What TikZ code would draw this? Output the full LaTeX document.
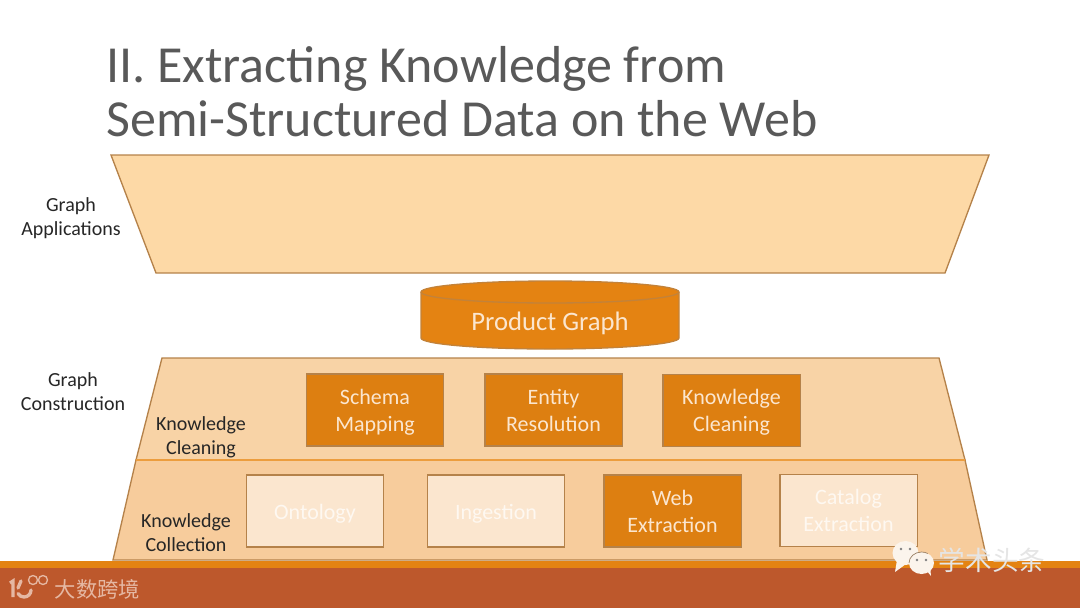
\documentclass[tikz,border=0pt]{standalone}
\usepackage{fontspec}
\setmainfont{Carlito}
\newfontfamily\cjkfont{Noto Sans CJK SC}
\definecolor{orangedark}{HTML}{E48312}
\definecolor{rustbar}{HTML}{BD582C}
\definecolor{edgeline}{HTML}{B5824A}
\definecolor{topfill}{HTML}{FDD9A6}
\definecolor{midfill}{HTML}{F8D3A6}
\definecolor{lowfill}{HTML}{F7CC9C}
\definecolor{paleorange}{HTML}{FBE6CF}
\definecolor{logotint}{HTML}{E5B8A3}
\definecolor{bubble}{HTML}{FBF4EC}
\tikzset{
    sidelabel/.style={align=center, font=\fontsize{15}{18}\selectfont, text=black!85},
    activebox/.style={draw=edgeline, line width=1pt, fill=orangedark!97!black, text=paleorange, align=center,
        minimum width=103pt, minimum height=54pt, inner sep=0pt, font=\fontsize{16.5}{20.3}\selectfont,
        text height=35.6pt, text depth=4pt},
    fadedbox/.style={activebox, fill=paleorange, text=white!70!paleorange},
    oneline/.style={text height=16.5pt, text depth=4pt}
}
\begin{document}
\begin{tikzpicture}[x=0.75pt, y=-0.75pt]
    \useasboundingbox (0,0) rectangle (1080,608);

    % Title
    \node[anchor=west, inner sep=0pt, text=black!65, align=left, font=\fontsize{39}{40.5}\selectfont] (title) at (106,92)
        {II. Extracting Knowledge from\\Semi-Structured Data on the Web};

    % Footer bar
    \fill[orangedark] (0,561) rectangle (1080,570);
    \fill[rustbar] (0,568) rectangle (1080,608);

    % Trapezoids
    \draw[draw=edgeline, fill=topfill, line width=1pt] (111,155) -- (989,155) -- (945,273) -- (156,273) -- cycle;
    \draw[draw=edgeline, fill=midfill, line width=1pt] (162,358) -- (939,358) -- (965,460) -- (136,460) -- cycle;
    \draw[draw=edgeline, fill=lowfill, line width=1pt] (136,460) -- (965,460) -- (987,560) -- (113,560) -- cycle;
    \draw[orangedark!70!topfill, line width=1pt] (136,460) -- (965,460);

    % Product graph cylinder
    \draw[draw=edgeline!70!orangedark, fill=orangedark, line width=1pt]
        (421,292) arc[start angle=180, end angle=360, x radius=129, y radius=11]
        -- (679,338) arc[start angle=0, end angle=180, x radius=129, y radius=11] -- cycle;
    \draw[draw=edgeline!70!orangedark, line width=1pt]
        (421,292) arc[start angle=180, end angle=0, x radius=129, y radius=11];
    \node[text=paleorange, font=\fontsize{20}{24}\selectfont] (product) at (550,323.5) {Product Graph};

    % Side labels
    \node[sidelabel] (applications) at (71,218.5) {Graph\\Applications};
    \node[sidelabel] (construction) at (73,391.5) {Graph\\Construction};
    \node[sidelabel] (cleaning) at (201,437.5) {Knowledge\\Cleaning};
    \node[sidelabel] (collection) at (186,533) {Knowledge\\Collection};

    % Knowledge cleaning boxes
    \node[activebox] (schema) at (375,410) {Schema\\Mapping};
    \node[activebox] (entity) at (553.5,410) {Entity\\Resolution};
    \node[activebox] (cleanbox) at (731.5,410.5) {Knowledge\\Cleaning};

    % Knowledge collection boxes
    \node[fadedbox, oneline] (ontology) at (315,511) {Ontology};
    \node[fadedbox, oneline] (ingestion) at (496,511) {Ingestion};
    \node[activebox] (webextract) at (672.5,511) {Web\\Extraction};
    \node[fadedbox] (catalog) at (848.5,510.5) {Catalog\\Extraction};

    % Footer logo
    \node[anchor=west, text=logotint, font=\cjkfont\fontsize{16}{18}\selectfont] (brand) at (50,589) {大数跨境};
    \draw[logotint, line width=2.5pt] (13,597) -- (13,581) -- (10,583);
    \draw[logotint, line width=2.5pt, line cap=round] (21,581) -- (18,588);
    \draw[logotint, line width=2.5pt, line cap=round] (31,590) arc[start angle=0, end angle=150, x radius=7, y radius=7];
    \draw[logotint, line width=1pt] (33,580) circle[radius=4.5] (43,580) circle[radius=4.5];

    % Watermark
    \fill[bubble] (905.5,553) ellipse[x radius=13, y radius=12];
    \fill[bubble] (897,560) -- (895,572) -- (906,564) -- cycle;
    \fill[bubble] (921.5,563) ellipse[x radius=12.5, y radius=11];
    \fill[bubble] (926,570) -- (931,576) -- (930,566) -- cycle;
    \draw[lowfill!60!black, line width=0.5pt] (909,563) arc[start angle=180, end angle=300, x radius=12.5, y radius=11];
    \fill[gray] (901,549) circle[radius=1.3] (910,549) circle[radius=1.3]
        (917,560) circle[radius=1.3] (926,560) circle[radius=1.3];
    \node[anchor=west, text=white!90!black, font=\cjkfont\fontsize{20}{20}\selectfont] (wechat) at (934,560.5) {学术头条};
\end{tikzpicture}
\end{document}
